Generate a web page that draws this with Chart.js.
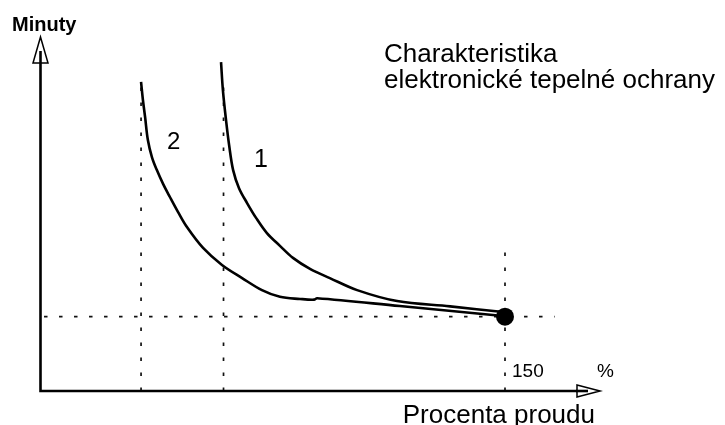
<!DOCTYPE html>
<html>
<head>
<meta charset="utf-8">
<title>Charakteristika elektronické tepelné ochrany</title>
<script src="https://cdn.jsdelivr.net/npm/chart.js@4.4.1/dist/chart.umd.min.js"></script>
<style>
  html, body { margin: 0; padding: 0; background: #fff; }
  #chart-section { width: 725px; height: 425px; position: relative; }
</style>
</head>
<body>
<div id="chart-section"><canvas id="chart"></canvas></div>
<script>
'use strict';

// curve 1 (procenta proudu / minuty)
let curve1X = [58.4, 59.0, 60.0, 61.0, 62.3, 64.2, 66.8, 69.7, 73.2, 77.4, 81.6, 87.1, 93.5, 102.3, 115.2, 132.3, 149.4];
let curve1Y = [92.9, 85.0, 76.6, 69.5, 62.4, 57.3, 53.1, 48.9, 44.6, 41.0, 37.6, 34.5, 31.9, 28.5, 25.4, 23.9, 22.3];

// curve 2
let curve2X = [32.6, 33.2, 33.9, 34.8, 36.1, 37.7, 39.7, 41.9, 44.5, 47.4, 52.6, 58.7, 65.2, 71.6, 77.4, 83.9, 88.4, 89.4, 116.1, 149.4];
let curve2Y = [87.3, 82.2, 77.4, 70.9, 66.1, 62.4, 58.5, 54.8, 50.6, 46.3, 40.4, 35.6, 31.9, 28.5, 26.6, 26.0, 25.8, 26.2, 24.0, 21.2];

// tripping point at 150 %
let pointX = [150];
let pointY = [21];

// dotted guides: vertical ones [x, top], horizontal one [y, from, to]
let guideX = [32.6, 59.2, 150];
let guideTop = [86, 87, 42];
let guideY = 21;
let guideYFrom = 1.3;
let guideYTo = 166;

let tickLabel = '150';
let axisUnit = '%';
let xTitle = 'Procenta proudu';
let yTitle = 'Minuty';
let titleLines = ['Charakteristika', 'elektronické tepelné ochrany'];
let curveLabels = ['1', '2'];

function toPoints(xs, ys) {
  return xs.map((x, i) => ({ x: x, y: ys[i] }));
}

let guideSets = guideX.map((x, i) => ({
  data: [{ x: x, y: 0 }, { x: x, y: guideTop[i] }],
  borderColor: '#111',
  borderWidth: 1.7,
  borderDash: [3.5, 11.5],
  pointRadius: 0,
  order: 3
}));

guideSets.push({
  data: [{ x: guideYFrom, y: guideY }, { x: guideYTo, y: guideY }],
  borderColor: '#111',
  borderWidth: 1.7,
  borderDash: [3.5, 11.5],
  pointRadius: 0,
  order: 3
});

// axes with open arrow heads and all the text
let sketchPlugin = {
  id: 'sketch',
  afterDatasetsDraw(chart) {
    let ctx = chart.ctx;
    let a = chart.chartArea;
    let x = chart.scales.x;
    let y = chart.scales.y;
    let ox = x.getPixelForValue(0) + 0.5;
    let oy = y.getPixelForValue(0);

    ctx.save();
    ctx.strokeStyle = '#000';
    ctx.lineWidth = 2.6;
    ctx.beginPath();
    ctx.moveTo(ox, oy);
    ctx.lineTo(ox, a.top + 12);
    ctx.moveTo(ox - 1.3, oy);
    ctx.lineTo(a.right - 8, oy);
    ctx.stroke();

    ctx.lineWidth = 1.5;
    ctx.fillStyle = '#fff';
    ctx.beginPath();
    ctx.moveTo(ox, a.top);
    ctx.lineTo(ox - 7.5, a.top + 26);
    ctx.lineTo(ox + 7.5, a.top + 26);
    ctx.closePath();
    ctx.fill();
    ctx.stroke();
    ctx.beginPath();
    ctx.moveTo(ox, a.top + 26);
    ctx.lineTo(ox, a.top + 14);
    ctx.lineWidth = 2.6;
    ctx.stroke();

    ctx.lineWidth = 1.5;
    ctx.beginPath();
    ctx.moveTo(a.right + 2, oy);
    ctx.lineTo(a.right - 21, oy - 6);
    ctx.lineTo(a.right - 21, oy + 6);
    ctx.closePath();
    ctx.fill();
    ctx.stroke();
    ctx.beginPath();
    ctx.moveTo(a.right - 22, oy);
    ctx.lineTo(a.right - 10, oy);
    ctx.lineWidth = 2.6;
    ctx.stroke();

    ctx.fillStyle = '#000';
    ctx.textBaseline = 'alphabetic';
    ctx.textAlign = 'left';

    ctx.font = 'bold 20px "Liberation Sans", Arial, sans-serif';
    ctx.fillText(yTitle, 12, 31);

    ctx.font = '26px "Liberation Sans", Arial, sans-serif';
    ctx.fillText(titleLines[0], 384, 62);
    ctx.fillText(titleLines[1], 384, 88);

    ctx.font = '25px "Liberation Sans", Arial, sans-serif';
    ctx.fillText(curveLabels[0], 254, 167);
    ctx.font = '24px "Liberation Sans", Arial, sans-serif';
    ctx.fillText(curveLabels[1], 167, 149);

    ctx.font = '19px "Liberation Sans", Arial, sans-serif';
    ctx.fillText(tickLabel, x.getPixelForValue(150) + 7, 377);
    ctx.fillText(axisUnit, 597, 377);

    ctx.font = '26px "Liberation Sans", Arial, sans-serif';
    ctx.textAlign = 'right';
    ctx.fillText(xTitle, 595, 423);
    ctx.restore();
  }
};

let chartConfig = {
  type: 'line',
  data: {
    datasets: [
      {
        data: toPoints(curve1X, curve1Y),
        borderColor: '#000',
        borderWidth: 2.6,
        tension: 0.35,
        pointRadius: 0,
        order: 2
      },
      {
        data: toPoints(curve2X, curve2Y),
        borderColor: '#000',
        borderWidth: 2.6,
        tension: 0.35,
        pointRadius: 0,
        order: 2
      },
      {
        data: toPoints(pointX, pointY),
        showLine: false,
        pointRadius: 9,
        pointBackgroundColor: '#000',
        pointBorderWidth: 0,
        order: 1
      }
    ].concat(guideSets)
  },
  options: {
    responsive: true,
    maintainAspectRatio: false,
    animation: false,
    layout: { padding: { left: 40, right: 127, top: 37, bottom: 34 } },
    plugins: {
      legend: { display: false },
      tooltip: { enabled: false }
    },
    scales: {
      x: { type: 'linear', min: 0, max: 180, display: false },
      y: { type: 'linear', min: 0, max: 100, display: false }
    }
  },
  plugins: [sketchPlugin]
};

new Chart(document.getElementById('chart'), chartConfig);
</script>
</body>
</html>
